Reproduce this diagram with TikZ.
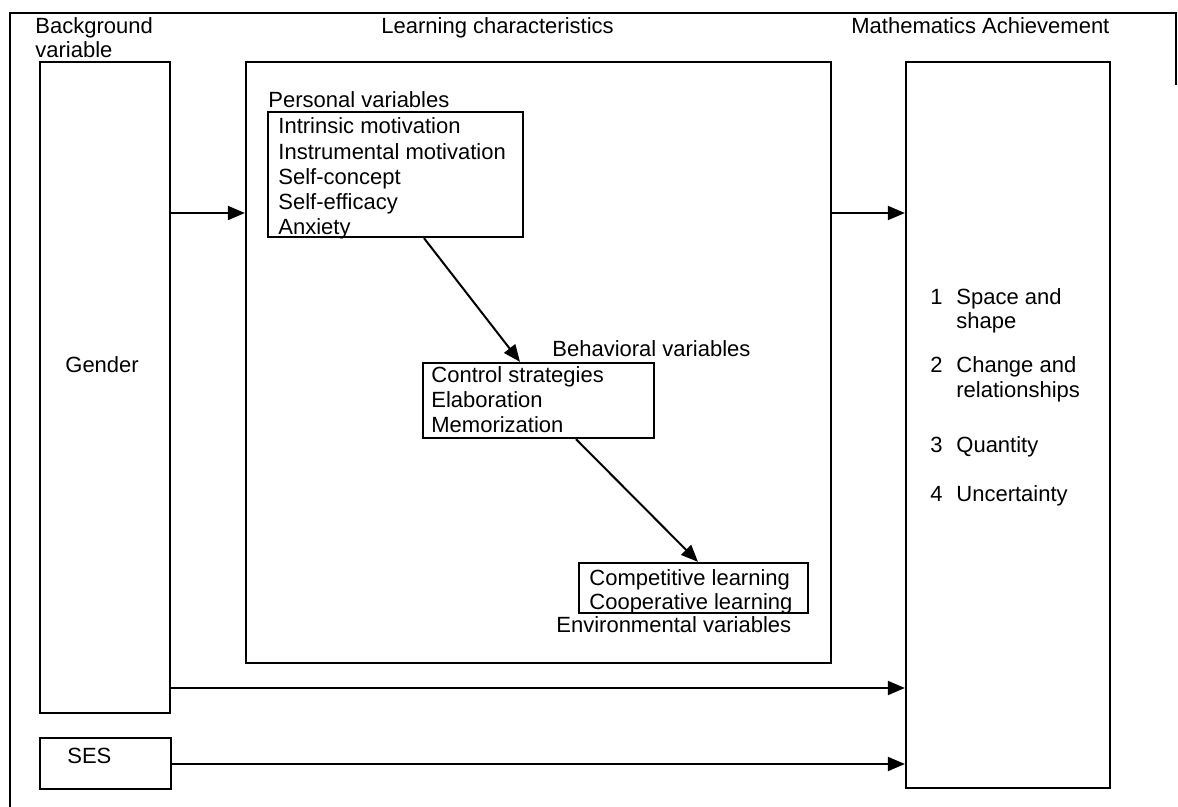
\documentclass[tikz,border=0pt]{standalone}
\usepackage{fontspec}
\setmainfont{Liberation Sans}
\usetikzlibrary{arrows.meta,fit}
\begin{document}
\begin{tikzpicture}[x=0.5pt,y=-0.5pt,
  font=\fontsize{11pt}{12.6pt}\selectfont,
  box/.style={draw, line width=1.15pt, inner sep=0pt},
  lbl/.style={anchor=base west, inner sep=0pt},
  arr/.style={line width=1pt, -{Triangle[length=8.5pt,width=7pt]}},
  frameline/.style={line width=1.1pt}]
\useasboundingbox (0,0) rectangle (1178,807);

% outer frame
\draw[frameline] (1176,85) -- (1176,13) -- (10,13) -- (10,807);

% column headings
\node[lbl] (hbg1) at (35,34) {Background};
\node[lbl] (hbg2) at (35,58) {variable};
\node[lbl] (hlc) at (381,34) {Learning characteristics};
\node[lbl] (hma) at (851,34) {Mathematics Achievement};

% main boxes
\node[box, fit={(40,62) (170,713)}] (gender) {};
\node[box, fit={(40,738) (171,789)}] (ses) {};
\node[box, fit={(246,62) (831,663)}] (learn) {};
\node[box, fit={(906,62) (1110,788)}] (math) {};

\node[lbl] (gtext) at (65,373) {Gender};
\node[lbl] (stext) at (67,763) {SES};

% personal variables
\node[lbl] (perslbl) at (268,108) {Personal variables};
\node[box, fit={(268,112) (523,237)}] (pers) {};
\foreach \t [count=\i] in {Intrinsic motivation, Instrumental motivation, Self-concept, Self-efficacy, Anxiety}
  \node[lbl] (pv\i) at (278,{134+25.2*(\i-1)}) {\t};

% behavioral variables
\node[lbl] (behlbl) at (552,357) {Behavioral variables};
\node[box, fit={(423,363) (654,438)}] (beh) {};
\foreach \t [count=\i] in {Control strategies, Elaboration, Memorization}
  \node[lbl] (bv\i) at (431,{383+25*(\i-1)}) {\t};

% environmental variables
\node[box, fit={(579,563) (808,613)}] (env) {};
\foreach \t [count=\i] in {Competitive learning, Cooperative learning}
  \node[lbl] (ev\i) at (589,{585+24*(\i-1)}) {\t};
\node[lbl] (envlbl) at (556,632) {Environmental variables};

% achievement domains
\node[lbl] (n1) at (930,305) {1};
\node[lbl] (m1a) at (956,305) {Space and};
\node[lbl] (m1b) at (956,329) {shape};
\node[lbl] (n2) at (930,373) {2};
\node[lbl] (m2a) at (956,373) {Change and};
\node[lbl] (m2b) at (956,398) {relationships};
\node[lbl] (n3) at (930,452) {3};
\node[lbl] (m3) at (956,452) {Quantity};
\node[lbl] (n4) at (930,502) {4};
\node[lbl] (m4) at (956,502) {Uncertainty};

% connector heights and offsets
\coordinate (yTop) at (0,213);
\coordinate (yGen) at (0,688);
\coordinate (ySes) at (0,764);
\coordinate (xPB1) at (424,0);
\coordinate (xPB2) at (520,0);
\coordinate (xBE1) at (576,0);
\coordinate (xBE2) at (698,0);

% connectors
\draw[arr] (gender.east |- yTop) -- (learn.west |- yTop);
\draw[arr] (learn.east |- yTop) -- (math.west |- yTop);
\draw[arr] (gender.east |- yGen) -- (math.west |- yGen);
\draw[arr] (ses.east |- ySes) -- (math.west |- ySes);
\draw[arr] (pers.south -| xPB1) -- (beh.north -| xPB2);
\draw[arr] (beh.south -| xBE1) -- (env.north -| xBE2);
\end{tikzpicture}
\end{document}
